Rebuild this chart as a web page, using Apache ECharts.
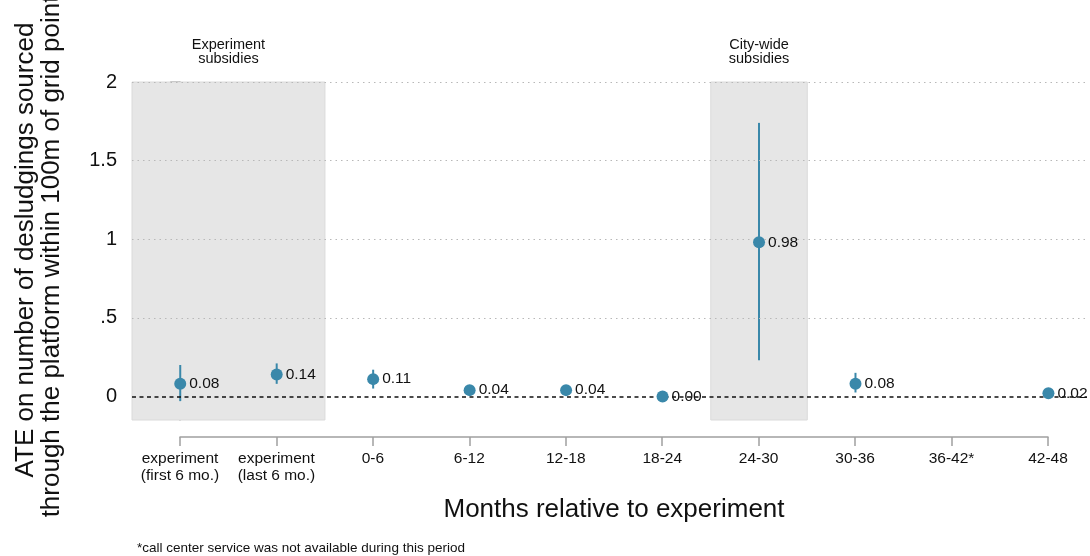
<!DOCTYPE html>
<html><head><meta charset="utf-8">
<script src="https://cdn.jsdelivr.net/npm/echarts@6/dist/echarts.min.js"></script>
<style>html,body{margin:0;padding:0;background:#fff}#c{width:1090px;height:556px}</style>
</head><body><div id="c"></div>
<script>
const categories = ['experiment\n(first 6 mo.)','experiment\n(last 6 mo.)','0-6','6-12','12-18','18-24','24-30','30-36','36-42*','42-48'];
const ate    = [0.08, 0.14, 0.11, 0.04, 0.04, 0.00, 0.98, 0.08, null, 0.02];
const ciLow  = [-0.03, 0.08, 0.05, 0.02, 0.02, -0.01, 0.23, 0.025, null, 0.00];
const ciHigh = [0.20, 0.21, 0.17, 0.06, 0.06, 0.01, 1.74, 0.15, null, 0.04];
const yTicks = [0, 0.5, 1, 1.5, 2];
const gridLevels = [0.5, 1, 1.5, 2];
const shadedSpans = [[-0.5, 1.5, 'Experiment\nsubsidies'], [5.5, 6.5, 'City-wide\nsubsidies']];

const FONT = 'Liberation Sans, Arial, sans-serif';
const COLOR = '#3a88aa';

const pts = [], bars = [];
ate.forEach((v, i) => {
  if (v === null) return;
  pts.push([i, v]);
  bars.push([i, ciLow[i], ciHigh[i]]);
});

const chart = echarts.init(document.getElementById('c'), null, {renderer: 'canvas'});
chart.setOption({
  animation: false,
  textStyle: {fontFamily: FONT},
  grid: [
    {left: 132, right: 3, top: 82, height: 338},
    {left: 180, right: 42, top: 430, height: 7}
  ],
  xAxis: [
    {gridIndex: 0, type: 'value', min: -0.5, max: 9.4, show: false},
    {gridIndex: 1, type: 'value', min: 0, max: 9, interval: 1, position: 'bottom',
     axisLine: {show: true, lineStyle: {color: '#a0a0a0', width: 1.5}},
     axisTick: {show: true, length: 9, lineStyle: {color: '#a0a0a0', width: 1.5}},
     splitLine: {show: false},
     axisLabel: {color: '#111', fontSize: 15.5, margin: 13, lineHeight: 17, fontFamily: FONT,
       formatter: v => categories[v] !== undefined ? categories[v] : ''},
     name: 'Months relative to experiment', nameLocation: 'middle', nameGap: 60,
     nameTextStyle: {fontSize: 26, color: '#111', fontFamily: FONT}}
  ],
  yAxis: [
    {gridIndex: 0, type: 'value', min: -0.15, max: 2,
     axisLine: {show: true, lineStyle: {color: '#a0a0a0', width: 1.5}},
     axisTick: {show: true, length: 10, customValues: yTicks, lineStyle: {color: '#a0a0a0', width: 1.5}},
     splitLine: {show: false},
     axisLabel: {customValues: yTicks, color: '#111', fontSize: 20, margin: 15, fontFamily: FONT,
       formatter: v => v === 0.5 ? '.5' : String(v)}},
    {gridIndex: 1, type: 'value', min: 0, max: 1, show: false}
  ],
  graphic: [
    {type: 'text', rotation: Math.PI / 2, x: 39, y: 250,
     style: {text: 'ATE on number of desludgings sourced', font: '26px ' + FONT, fill: '#111',
       textAlign: 'center', textVerticalAlign: 'bottom'}},
    {type: 'text', rotation: Math.PI / 2, x: 65, y: 250,
     style: {text: 'through the platform within 100m of grid points', font: '26px ' + FONT, fill: '#111',
       textAlign: 'center', textVerticalAlign: 'bottom'}},
    {type: 'text', x: 137, y: 541,
     style: {text: '*call center service was not available during this period', font: '13.5px ' + FONT, fill: '#111'}}
  ],
  series: [
    {type: 'line', xAxisIndex: 0, yAxisIndex: 0, data: [], silent: true, z: 1,
     markLine: {silent: true, symbol: 'none', label: {show: false},
       lineStyle: {color: '#b8b8b8', type: [1.5, 4], width: 1},
       data: gridLevels.map(v => ({yAxis: v}))}},
    {type: 'line', xAxisIndex: 0, yAxisIndex: 0, data: [], silent: true, z: 2,
     markArea: {silent: true,
       itemStyle: {color: '#e6e6e6', borderColor: '#dadada', borderWidth: 1},
       label: {show: true, position: 'top', distance: 16, color: '#111', fontSize: 14.5, lineHeight: 14, fontFamily: FONT},
       data: shadedSpans.map(s => [{xAxis: s[0], yAxis: -0.15, name: s[2]}, {xAxis: s[1], yAxis: 2}])}},
    {type: 'line', xAxisIndex: 0, yAxisIndex: 0, data: [], silent: true, z: 3,
     markLine: {silent: true, symbol: 'none', label: {show: false},
       lineStyle: {color: '#111', type: [4, 3.5], width: 1.6},
       data: [{yAxis: 0}]}},
    {type: 'custom', xAxisIndex: 0, yAxisIndex: 0, z: 4, data: bars,
     renderItem: (params, api) => {
       const p1 = api.coord([api.value(0), api.value(1)]);
       const p2 = api.coord([api.value(0), api.value(2)]);
       return {type: 'line', shape: {x1: p1[0], y1: p1[1], x2: p2[0], y2: p2[1]},
         style: {stroke: COLOR, lineWidth: 2}};
     }},
    {type: 'scatter', xAxisIndex: 0, yAxisIndex: 0, z: 5, data: pts, symbolSize: 12,
     itemStyle: {color: COLOR, opacity: 1},
     label: {show: true, position: 'right', distance: 3, color: '#111', fontSize: 15.5, fontFamily: FONT,
       formatter: p => p.value[1].toFixed(2)}}
  ]
});
</script></body></html>
